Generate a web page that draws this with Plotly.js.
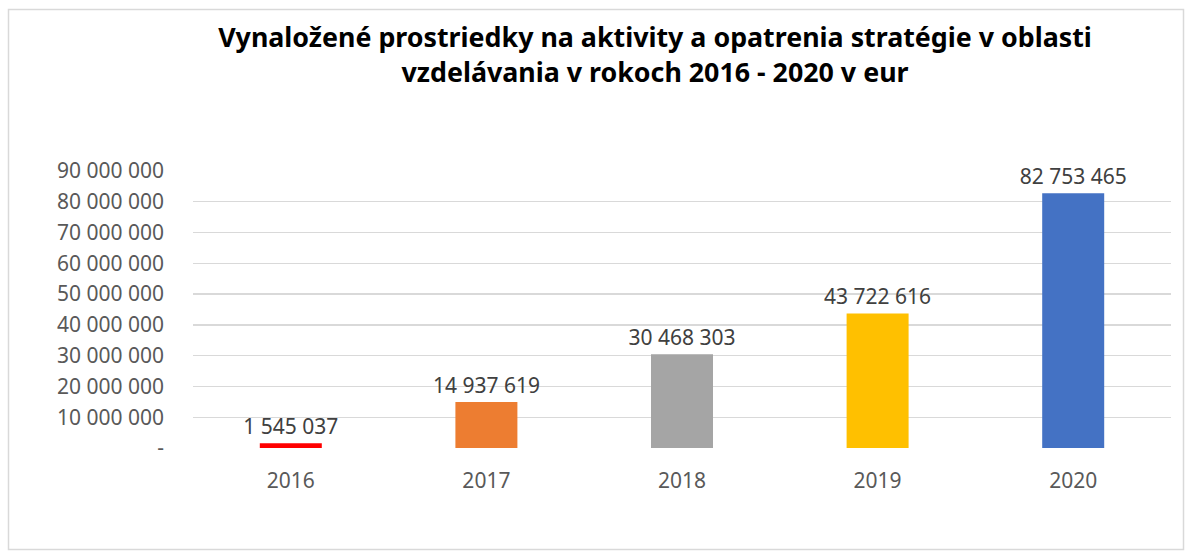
<!DOCTYPE html>
<html><head><meta charset="utf-8">
<script src="https://cdn.plot.ly/plotly-3.0.1.min.js"></script>
<style>html,body{margin:0;padding:0;background:#fff}#c{width:1192px;height:554px}</style>
</head><body><div id="c"></div>
<script>
const years = ['2016','2017','2018','2019','2020'];
const values = [1545037, 14937619, 30468303, 43722616, 82753465];
const labels = ['1 545 037','14 937 619','30 468 303','43 722 616','82 753 465'];
const colors = ['#FF0000','#ED7D31','#A5A5A5','#FFC000','#4472C4'];
const tickVals = [0,10000000,20000000,30000000,40000000,50000000,60000000,70000000,80000000,90000000];
const tickText = ['-','10 000 000','20 000 000','30 000 000','40 000 000','50 000 000','60 000 000','70 000 000','80 000 000','90 000 000'];
const titleText = 'Vynaložené prostriedky na aktivity a opatrenia stratégie v oblasti<br>vzdelávania v rokoch 2016 - 2020 v eur';

const L=193, R=1171, T=171, B=448, W=1192, H=554;
const pw=R-L, ph=B-T;
const px = x => (x-L)/pw, py = y => (B-y)/ph;

const FONT = 'Noto Sans, sans-serif';
Plotly.newPlot('c', [{
  type:'bar', x: years, y: values, marker:{color: colors},
  text: labels, textposition:'outside', cliponaxis:false, constraintext:'none',
  textfont:{family:FONT, size:21, color:'#404040'}, hoverinfo:'none'
}], {
  width:W, height:H,
  margin:{l:L, r:W-R, t:T, b:H-B, pad:0},
  paper_bgcolor:'#fff', plot_bgcolor:'#fff',
  bargap:0.683,
  showlegend:false,
  title:{text:titleText, x:655/W, xanchor:'center', xref:'container', y:1-(47/H), yanchor:'top', yref:'container',
    font:{family:FONT, size:26.8, color:'#000', weight:'bold'}},
  xaxis:{type:'category', showgrid:false, showline:false, zeroline:false, ticks:'',
    tickfont:{family:FONT, size:21, color:'#595959'}, ticklabelstandoff:18},
  yaxis:{range:[0,90000000], tickvals:tickVals, ticktext:tickText, showgrid:true, gridcolor:'#D9D9D9', gridwidth:1.3,
    zeroline:false, showline:false, ticks:'', tickfont:{family:FONT, size:21, color:'#595959'}, ticklabelstandoff:28},
  shapes:[{type:'rect', xref:'paper', yref:'paper', x0:px(8.5), x1:px(1183.5), y0:py(549.5), y1:py(9.5),
    line:{color:'#D9D9D9', width:1.5}, fillcolor:'rgba(0,0,0,0)', layer:'below'}]
}, {displayModeBar:false, staticPlot:true});
</script></body></html>
